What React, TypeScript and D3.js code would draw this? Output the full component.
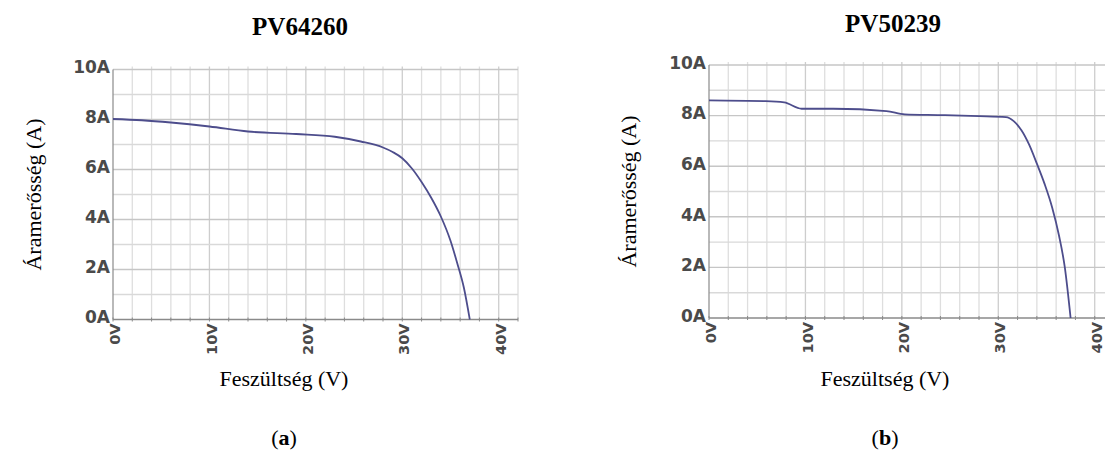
import React from "react";
import * as d3 from "d3";

// PV64260 I–V curve (voltage in V, current in A)
const pv64260Voltage = [0, 3, 6, 10, 14, 19, 23, 25.7, 28, 29, 30, 31, 32, 33, 34, 35, 35.7, 36.4, 37.0];
const pv64260Current = [8.02, 7.97, 7.88, 7.72, 7.52, 7.42, 7.31, 7.12, 6.88, 6.7, 6.45, 6.04, 5.5, 4.87, 4.12, 3.15, 2.25, 1.25, 0];

// PV50239 I–V curve
const pv50239Voltage = [0, 5.9, 7.8, 9.6, 12.9, 18.4, 20.3, 24, 28, 30.8, 31.6, 32.4, 33.2, 34, 34.8, 35.6, 36.3, 36.9, 37.5];
const pv50239Current = [8.6, 8.57, 8.52, 8.27, 8.27, 8.18, 8.05, 8.02, 7.98, 7.94, 7.78, 7.42, 6.85, 6.1, 5.3, 4.35, 3.25, 2.0, 0];

const xTicks = [0, 10, 20, 30, 40];
const yTicks = [0, 2, 4, 6, 8, 10];
const xGrid = d3.range(0, 43, 2);
const yGrid = d3.range(0, 11, 1);

const titles = ["PV64260", "PV50239"];
const panelLetters = ["a", "b"];
const yTitle = "Áramerősség (A)";
const xTitle = "Feszültség (V)";

type Panel = {
  title: string;
  letter: string;
  volts: number[];
  amps: number[];
  x0: number;
  yTop: number;
  yBottom: number;
  yTitleX: number;
  titleX: number;
  titleY: number;
  centerX: number;
};

const panels: Panel[] = [
  {
    title: titles[0], letter: panelLetters[0], volts: pv64260Voltage, amps: pv64260Current,
    x0: 113, yTop: 69.5, yBottom: 319.5, yTitleX: 33, titleX: 300, titleY: 35, centerX: 284,
  },
  {
    title: titles[1], letter: panelLetters[1], volts: pv50239Voltage, amps: pv50239Current,
    x0: 709, yTop: 65, yBottom: 318, yTitleX: 628, titleX: 893, titleY: 32, centerX: 885,
  },
];

const tickFont = "'DejaVu Sans', Verdana, sans-serif";
const serif = "'Liberation Serif', 'Times New Roman', serif";

function IVChart({ p }: { p: Panel }) {
  const x = d3.scaleLinear().domain([0, 42]).range([p.x0, p.x0 + 405]);
  const y = d3.scaleLinear().domain([0, 10]).range([p.yBottom, p.yTop]);
  const pts: [number, number][] = p.volts.map((v, i) => [v, p.amps[i]]);
  const line = d3
    .line<[number, number]>()
    .x((d) => x(d[0]))
    .y((d) => y(d[1]))
    .curve(d3.curveMonotoneX);
  const [xa, xb] = x.range();
  return (
    <g>
      <text x={p.titleX} y={p.titleY} textAnchor="middle" fontFamily={serif} fontWeight="bold" fontSize={25} fill="#000">
        {p.title}
      </text>
      {/* grid */}
      {xGrid.slice(1).map((v) => (
        <line key={"vx" + v} x1={x(v)} x2={x(v)} y1={y(10) - 3} y2={y(0)} stroke={v % 10 === 0 ? "#cdcdcd" : "#dedede"} strokeWidth={1.3} />
      ))}
      {yGrid.slice(1).map((v) => (
        <line key={"hy" + v} x1={xa} x2={xb} y1={y(v)} y2={y(v)} stroke={v % 2 === 0 ? "#c6c6c6" : "#d9d9d9"} strokeWidth={1.4} />
      ))}
      {/* axes */}
      <line x1={xa} x2={xa} y1={y(10)} y2={y(0)} stroke="#8a8a8a" strokeWidth={1.2} />
      <line x1={xa} x2={xb} y1={y(0)} y2={y(0)} stroke="#8a8a8a" strokeWidth={1.5} />
      {xGrid.map((v) => (
        <line key={"tx" + v} x1={x(v)} x2={x(v)} y1={y(0) - 2} y2={y(0) + 2} stroke="#8a8a8a" strokeWidth={1} />
      ))}
      {yTicks.map((v) => (
        <text key={"yl" + v} x={xa - 3} y={y(v)} dy="0.22em" textAnchor="end" fontFamily={tickFont} fontWeight="bold" fontSize={17} fill="#4a4a4a">
          {v + "A"}
        </text>
      ))}
      {xTicks.map((v) => (
        <text
          key={"xl" + v}
          transform={`translate(${x(v) + 2},${y(0) + 4}) rotate(-90)`}
          dy="0.35em"
          textAnchor="end"
          fontFamily={tickFont}
          fontWeight="bold"
          fontSize={14.5}
          fill="#4a4a4a"
        >
          {v + "V"}
        </text>
      ))}
      <path d={line(pts) ?? ""} fill="none" stroke="#4d4d8c" strokeWidth={1.8} />
      <text
        transform={`translate(${p.yTitleX},${(p.yTop + p.yBottom) / 2}) rotate(-90)`}
        dy="0.35em"
        textAnchor="middle"
        fontFamily={serif}
        fontSize={22}
        fill="#000"
      >
        {yTitle}
      </text>
      <text x={p.centerX} y={386} textAnchor="middle" fontFamily={serif} fontSize={22} fill="#000">
        {xTitle}
      </text>
      <text x={p.centerX} y={445} textAnchor="middle" fontFamily={serif} fontSize={22} fill="#000">
        (<tspan fontWeight="bold">{p.letter}</tspan>)
      </text>
    </g>
  );
}

export default function App() {
  return (
    <div style={{ position: "absolute", left: 0, top: 0 }}>
      <svg width={1105} height={463} style={{ display: "block", background: "#fff" }}>
        {panels.map((p) => (
          <IVChart key={p.title} p={p} />
        ))}
      </svg>
    </div>
  );
}
